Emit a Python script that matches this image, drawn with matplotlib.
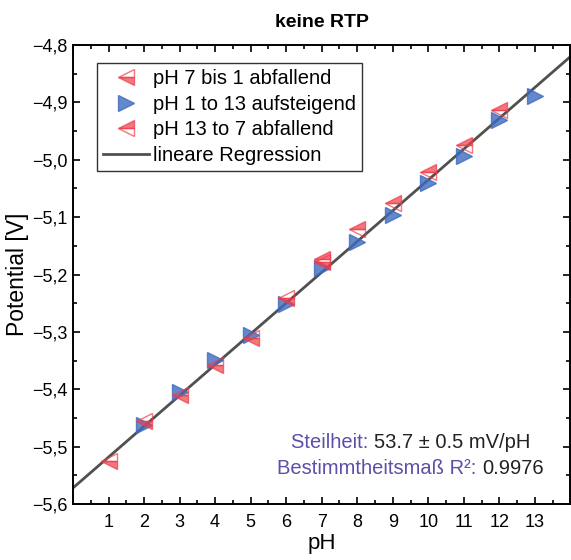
import numpy as np
import matplotlib
matplotlib.use("Agg")
import matplotlib.pyplot as plt
from matplotlib.lines import Line2D
from matplotlib.ticker import MultipleLocator, FuncFormatter, FixedLocator
from matplotlib.offsetbox import TextArea, HPacker, VPacker, AnchoredOffsetbox

plt.rcParams['font.family'] = ['Liberation Sans', 'DejaVu Sans']

# data
ph_down_7_1 = [7, 6, 5, 4, 3, 2, 1]
pot_down_7_1 = [-5.178, -5.241, -5.310, -5.357, -5.410, -5.455, -5.525]

ph_up = [2, 3, 4, 5, 6, 7, 8, 9, 10, 11, 12, 13]
pot_up = [-5.462, -5.405, -5.349, -5.306, -5.251, -5.189, -5.143, -5.096,
          -5.040, -4.994, -4.931, -4.889]

ph_down_13_7 = [12, 11, 10, 9, 8, 7]
pot_down_13_7 = [-4.913, -4.975, -5.021, -5.075, -5.120, -5.173]

slope = 0.0537       # V/pH
intercept = -5.572   # V
reg_range = [0, 14]

RED = '#f03c48'
BLUE = '#3d6cbf'
LINE = '#505050'
PURPLE = '#5a50a8'

fig = plt.figure(figsize=(5.71, 5.60), dpi=100)
ax = fig.add_axes([0.1278, 0.10, 0.8712, 0.8196])

xr = np.array(reg_range, dtype=float)
ax.plot(xr, intercept + slope * xr, color=LINE, lw=2.0, zorder=1)

ax.plot(ph_down_7_1, pot_down_7_1, ls='none', marker='<', ms=11,
        fillstyle='bottom', mfc=RED, mec=RED, mew=1.0, alpha=0.7, zorder=3)
ax.plot(ph_up, pot_up, ls='none', marker='>', ms=11,
        mfc=BLUE, mec=BLUE, alpha=0.8, zorder=2)
ax.plot(ph_down_13_7, pot_down_13_7, ls='none', marker='<', ms=11,
        fillstyle='top', mfc=RED, mec=RED, mew=1.0, alpha=0.7, zorder=3)

ax.set_xlim(0, 14)
ax.set_ylim(-5.6, -4.8)
ax.xaxis.set_major_locator(FixedLocator(range(1, 14)))
ax.xaxis.set_minor_locator(MultipleLocator(0.5))
ax.yaxis.set_major_locator(MultipleLocator(0.1))
ax.yaxis.set_minor_locator(MultipleLocator(0.05))
ax.yaxis.set_major_formatter(FuncFormatter(
    lambda v, p: f"{v:.1f}".replace('-', '\u2212').replace('.', ',')))
ax.tick_params(which='both', direction='in', top=True, right=True,
               labelsize=13, width=1.2)
ax.tick_params(axis='y', pad=4)
ax.tick_params(axis='x', pad=7)
ax.tick_params(which='major', length=5)
ax.tick_params(which='minor', length=3)
for s in ax.spines.values():
    s.set_linewidth(1.4)

ax.set_xlabel('pH', fontsize=16, labelpad=2)
ax.set_ylabel('Potential [V]', fontsize=16.5)
ax.yaxis.set_label_coords(-0.088, 0.5)
ax.set_title('keine RTP', fontsize=14, fontweight='bold', pad=13)

handles = [
    Line2D([], [], ls='none', marker='<', ms=11, fillstyle='bottom',
           mfc=RED, mec=RED, alpha=0.7),
    Line2D([], [], ls='none', marker='>', ms=11, mfc=BLUE, mec=BLUE, alpha=0.8),
    Line2D([], [], ls='none', marker='<', ms=11, fillstyle='top',
           mfc=RED, mec=RED, alpha=0.7),
    Line2D([], [], color=LINE, lw=2.0),
]
labels = ['pH 7 bis 1 abfallend', 'pH 1 to 13 aufsteigend',
          'pH 13 to 7 abfallend', 'lineare Regression']
leg = ax.legend(handles, labels, loc='upper left', bbox_to_anchor=(0.048, 0.961),
                borderaxespad=0, fontsize=14.5, frameon=True, fancybox=False,
                edgecolor='black', labelspacing=0.33, handlelength=2.3,
                handletextpad=0.2, borderpad=0.3)
leg.get_frame().set_linewidth(1.0)

tp = dict(fontsize=14.5)
row1 = HPacker(children=[TextArea('Steilheit: ', textprops=dict(color=PURPLE, **tp)),
                         TextArea('53.7 \u00b1 0.5 mV/pH', textprops=dict(color='#222222', **tp))],
               align='baseline', pad=0, sep=0)
row2 = HPacker(children=[TextArea('Bestimmtheitsma\u00df R\u00b2: ', textprops=dict(color=PURPLE, **tp)),
                         TextArea('0.9976', textprops=dict(color='#222222', **tp))],
               align='baseline', pad=0, sep=0)
box = VPacker(children=[row1, row2], align='center', pad=0, sep=5)
anch = AnchoredOffsetbox(loc='center', child=box, frameon=False, pad=0, borderpad=0,
                         bbox_to_anchor=(0.679, 0.105), bbox_transform=ax.transAxes)
ax.add_artist(anch)

fig.savefig('out.png', dpi=100)
